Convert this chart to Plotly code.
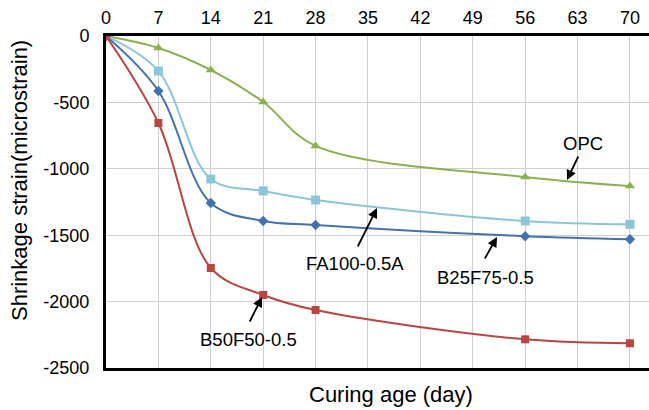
import plotly.graph_objects as go

days = [0, 7, 14, 21, 28, 56, 70]
opc = [0, -90, -256, -497, -828, -1062, -1130]
fa100 = [0, -264, -1077, -1167, -1235, -1393, -1418]
b25f75 = [0, -414, -1258, -1393, -1423, -1508, -1531]
b50f50 = [0, -655, -1747, -1950, -2063, -2284, -2314]

x_ticks = [0, 7, 14, 21, 28, 35, 42, 49, 56, 63, 70]
y_ticks = [0, -500, -1000, -1500, -2000, -2500]
y_tick_text = ["0", "-500", "-1000", "-1500", "-2000", "-2500"]

FONT = "Liberation Sans, Arial, sans-serif"

series = [
    ("OPC", opc, "#8DB04F", "triangle-up", 9),
    ("FA100-0.5A", fa100, "#8CC5DA", "square", 9),
    ("B25F75-0.5", b25f75, "#4472B0", "diamond", 8),
    ("B50F50-0.5", b50f50, "#BB4541", "square", 8),
]

fig = go.Figure()
for name, vals, col, sym, sz in series:
    fig.add_trace(go.Scatter(
        x=days, y=vals, name=name, mode="lines+markers",
        line=dict(color=col, width=2, shape="spline", smoothing=1.0),
        marker=dict(color=col, symbol=sym, size=sz),
        showlegend=False,
    ))

fig.update_layout(
    width=649, height=410,
    margin=dict(l=106, r=0, t=36, b=42),
    paper_bgcolor="white", plot_bgcolor="white",
    font=dict(family=FONT, size=18, color="black"),
)
fig.update_xaxes(
    range=[0, 72.54], side="top", tickvals=x_ticks,
    showgrid=True, gridcolor="#D0D0D0", gridwidth=1,
    showline=True, linecolor="black", linewidth=3, mirror=True,
    zeroline=False, ticks="", tickfont=dict(size=18), ticklabelstandoff=2,
)
fig.update_yaxes(
    range=[-2500, 0], tickvals=y_ticks, ticktext=y_tick_text,
    showgrid=True, gridcolor="#D0D0D0", gridwidth=1,
    showline=True, linecolor="black", linewidth=3, mirror=False,
    zeroline=False, ticks="", tickfont=dict(size=18), ticklabelstandoff=10,
)

def px_to_x(px):
    return (px - 106) / (543 / 72.54)

def py_to_y(py):
    return -(py - 36) / (332 / 2500)

# text positions (pixels) and arrows
labels = [
    ("OPC", 583, 143, 579, 155, 567, 180),
    ("FA100-0.5A", 355, 263, 357, 248, 377, 208),
    ("B25F75-0.5", 485, 277, 484, 260, 497, 237),
    ("B50F50-0.5", 248, 339, 249, 323, 262, 297),
]
for txt, tx, ty, ax0, ay0, hx, hy in labels:
    fig.add_annotation(x=px_to_x(tx), y=py_to_y(ty), text=txt, showarrow=False,
                       font=dict(size=18.5, family=FONT), xref="x", yref="y")
    fig.add_annotation(x=px_to_x(hx), y=py_to_y(hy), ax=px_to_x(ax0), ay=py_to_y(ay0),
                       axref="x", ayref="y", xref="x", yref="y", text="",
                       showarrow=True, arrowhead=2, arrowsize=1.1, arrowwidth=1.8,
                       arrowcolor="black")

fig.add_annotation(x=(391 - 106) / 543, y=-(395 - 368) / 332, xref="paper", yref="paper",
                   text="Curing age (day)", showarrow=False, font=dict(size=22, family=FONT),
                   yanchor="middle", xanchor="center")
fig.add_annotation(x=-(106 - 19) / 543, y=(368 - 181) / 332, xref="paper", yref="paper",
                   text="Shrinkage strain(microstrain)", showarrow=False, textangle=-90,
                   font=dict(size=22, family=FONT), yanchor="middle", xanchor="center")

fig.write_html("out.html")
